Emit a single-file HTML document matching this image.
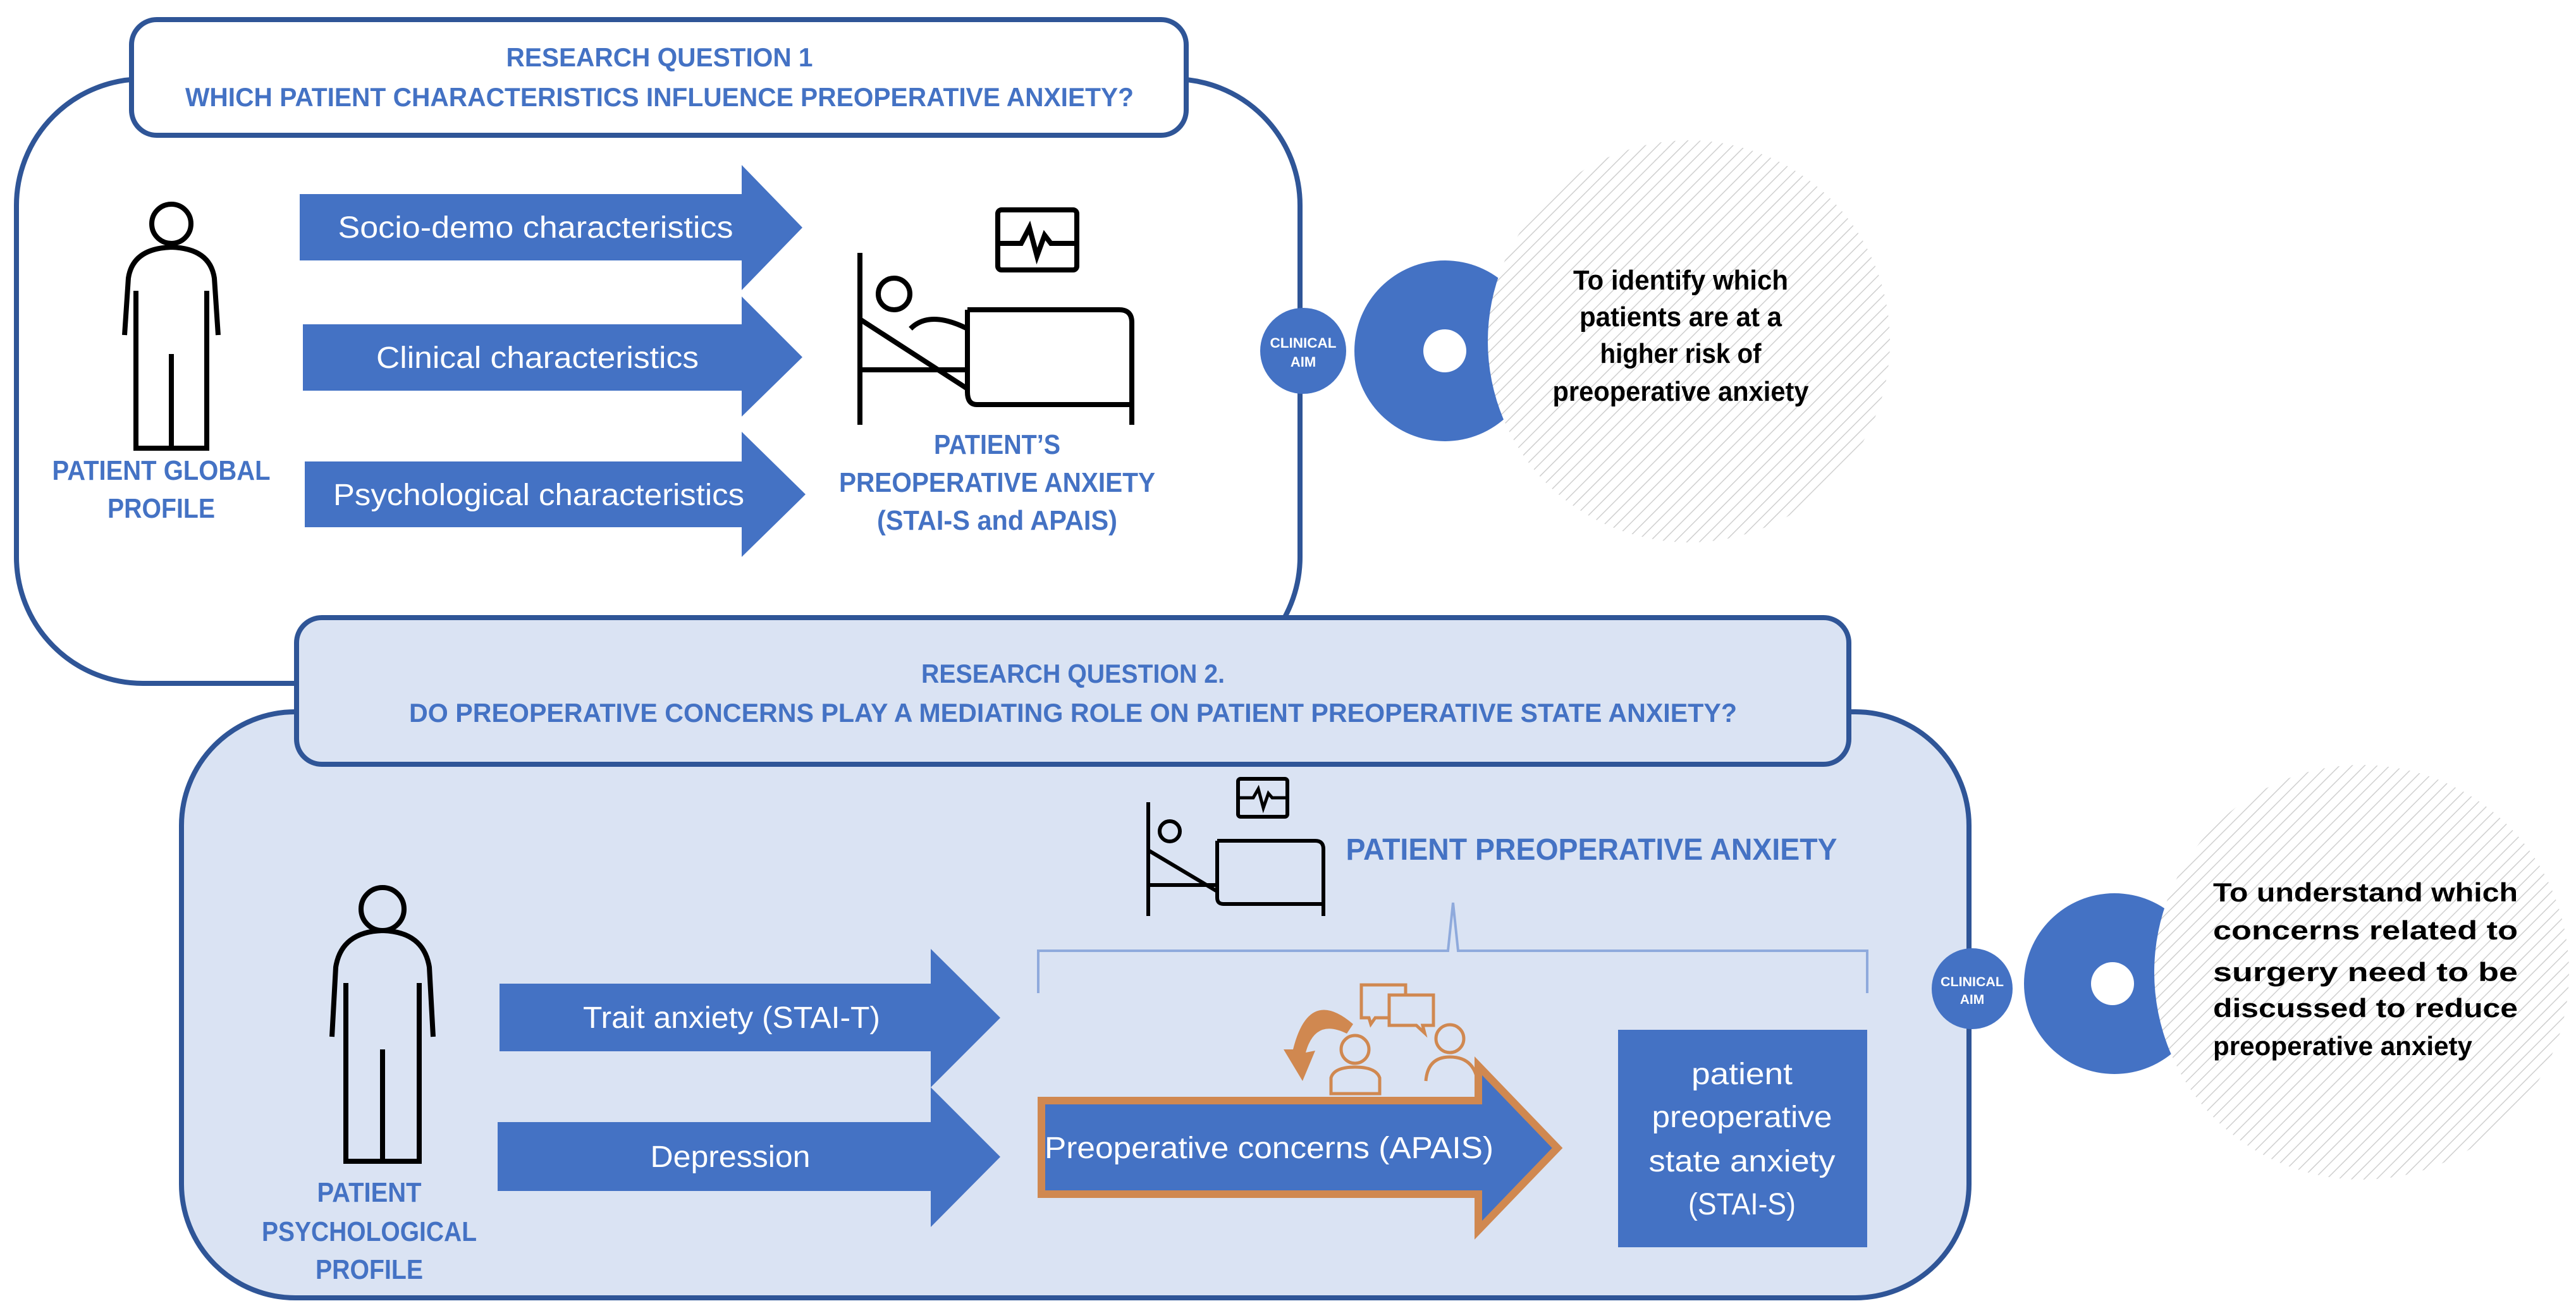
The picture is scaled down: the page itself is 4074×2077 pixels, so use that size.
<!DOCTYPE html>
<html><head><meta charset="utf-8"><style>html,body{margin:0;padding:0;background:#fff}svg{display:block}</style></head>
<body>
<svg width="4074" height="2077" viewBox="0 0 4074 2077" xmlns="http://www.w3.org/2000/svg" font-family="'Liberation Sans', sans-serif">
<defs>
<pattern id="h" width="14" height="14" patternUnits="userSpaceOnUse" patternTransform="rotate(45)">
<rect width="14" height="14" fill="#fff"/><line x1="0" y1="0" x2="0" y2="14" stroke="#cfcfcf" stroke-width="3"/></pattern>
</defs>
<g stroke="#2f5597" stroke-width="8">
<rect x="26" y="125" width="2030" height="956" rx="200" fill="#fff"/>
<rect x="208" y="31" width="1668" height="183" rx="40" fill="#fff"/>
<rect x="287" y="1126" width="2827" height="927" rx="180" fill="#dae3f3"/>
<rect x="469" y="977" width="2455" height="232" rx="40" fill="#dae3f3"/>
</g>
<g fill="#4472c4" font-weight="bold" text-anchor="middle">
<text x="1043" y="105" font-size="42" textLength="485" lengthAdjust="spacingAndGlyphs">RESEARCH QUESTION 1</text>
<text x="1043" y="168" font-size="42" textLength="1500" lengthAdjust="spacingAndGlyphs">WHICH PATIENT CHARACTERISTICS INFLUENCE PREOPERATIVE ANXIETY?</text>
<text x="1697" y="1080" font-size="42" textLength="480" lengthAdjust="spacingAndGlyphs">RESEARCH QUESTION 2.</text>
<text x="1697" y="1142" font-size="42" textLength="2100" lengthAdjust="spacingAndGlyphs">DO PREOPERATIVE CONCERNS PLAY A MEDIATING ROLE ON PATIENT PREOPERATIVE STATE ANXIETY?</text>
<text x="255" y="759" font-size="44" textLength="345" lengthAdjust="spacingAndGlyphs">PATIENT GLOBAL</text>
<text x="255" y="819" font-size="44" textLength="170" lengthAdjust="spacingAndGlyphs">PROFILE</text>
<text x="1577" y="718" font-size="44" textLength="200" lengthAdjust="spacingAndGlyphs">PATIENT’S</text>
<text x="1577" y="778" font-size="44" textLength="500" lengthAdjust="spacingAndGlyphs">PREOPERATIVE ANXIETY</text>
<text x="1577" y="838" font-size="44" textLength="380" lengthAdjust="spacingAndGlyphs">(STAI-S and APAIS)</text>
<text x="584" y="1901" font-size="44" textLength="165" lengthAdjust="spacingAndGlyphs">PATIENT</text>
<text x="584" y="1963" font-size="44" textLength="340" lengthAdjust="spacingAndGlyphs">PSYCHOLOGICAL</text>
<text x="584" y="2023" font-size="44" textLength="170" lengthAdjust="spacingAndGlyphs">PROFILE</text>
<text x="2517" y="1360" font-size="48" text-anchor="middle" textLength="777" lengthAdjust="spacingAndGlyphs">PATIENT PREOPERATIVE ANXIETY</text>
</g>
<g fill="#4472c4">
<polygon points="474,307 1173,307 1173,261 1269,360 1173,459 1173,412 474,412"/>
<polygon points="479,513 1173,513 1173,469 1269,565 1173,659 1173,618 479,618"/>
<polygon points="482,730 1173,730 1173,683 1274,782 1173,881 1173,834 482,834"/>
<polygon points="790,1556 1472,1556 1472,1501 1582,1610 1472,1720 1472,1663 790,1663"/>
<polygon points="787,1775 1472,1775 1472,1720 1582,1830 1472,1941 1472,1884 787,1884"/>
<polygon points="1647,1741 2338,1741 2338,1686 2463,1816 2338,1946 2338,1889 1647,1889" stroke="#d08850" stroke-width="12" stroke-linejoin="miter"/>
<rect x="2559" y="1629" width="394" height="344"/>
</g>
<g fill="#fff" text-anchor="middle" font-size="48">
<text x="847" y="376" textLength="625" lengthAdjust="spacingAndGlyphs">Socio-demo characteristics</text>
<text x="850" y="582" textLength="510" lengthAdjust="spacingAndGlyphs">Clinical characteristics</text>
<text x="852" y="799" textLength="650" lengthAdjust="spacingAndGlyphs">Psychological characteristics</text>
<text x="1157" y="1626" textLength="470" lengthAdjust="spacingAndGlyphs">Trait anxiety (STAI-T)</text>
<text x="1155" y="1846" textLength="253" lengthAdjust="spacingAndGlyphs">Depression</text>
<text x="2007" y="1832" textLength="710" lengthAdjust="spacingAndGlyphs">Preoperative concerns (APAIS)</text>
<text x="2755" y="1715" textLength="160" lengthAdjust="spacingAndGlyphs">patient</text>
<text x="2755" y="1783" textLength="285" lengthAdjust="spacingAndGlyphs">preoperative</text>
<text x="2755" y="1853" textLength="295" lengthAdjust="spacingAndGlyphs">state anxiety</text>
<text x="2755" y="1921" textLength="170" lengthAdjust="spacingAndGlyphs">(STAI-S)</text>
</g>
<path d="M1642,1571 L1642,1504 L2290,1504 L2298,1428 L2306,1504 L2953,1504 L2953,1571" fill="none" stroke="#8faadc" stroke-width="4"/>
<g fill="none" stroke="#000" stroke-width="8">
<circle cx="271" cy="354" r="31"/>
<path d="M197,530 L203,440 Q210,393 271,391 Q332,393 339,440 L345,530"/>
<path d="M215,460 L215,709 L327,709 L327,460 M271,560 L271,709"/>
<circle cx="605" cy="1438" r="34"/>
<path d="M525,1640 L531,1530 Q540,1474 605,1472 Q670,1474 679,1530 L685,1640"/>
<path d="M547,1555 L547,1837 L663,1837 L663,1555 M605,1660 L605,1837"/>
<rect x="1578" y="332" width="125" height="95" rx="6"/>
<path d="M1580,385 L1615,385 L1628,360 L1640,405 L1652,372 L1662,385 L1700,385"/>
<path d="M1360,400 L1360,672 M1360,585 L1530,585 M1360,505 L1530,615"/>
<circle cx="1414" cy="465" r="25"/>
<path d="M1440,520 Q1470,490 1530,520"/>
<path d="M1530,490 L1770,490 Q1790,490 1790,510 L1790,672 M1790,640 L1545,640 Q1530,640 1530,620 L1530,490"/>
<rect x="1958" y="1232" width="78" height="60" rx="4" stroke-width="6"/>
<path d="M1960,1262 L1982,1262 L1990,1248 L1998,1278 L2006,1255 L2012,1262 L2034,1262" stroke-width="5"/>
<path d="M1816,1269 L1816,1449 M1816,1400 L1925,1400 M1816,1345 L1925,1410" stroke-width="6"/>
<circle cx="1850" cy="1315" r="16" stroke-width="6"/>
<path d="M1925,1330 L2080,1330 Q2093,1330 2093,1343 L2093,1449 M2093,1430 L1935,1430 Q1925,1430 1925,1420 L1925,1330" stroke-width="6"/>
</g>
<g fill="none" stroke="#d08850" stroke-width="5">
<path d="M2153,1558 L2223,1558 L2223,1610 L2175,1610 L2168,1620 L2165,1610 L2153,1610 Z"/>
<path d="M2197,1574 L2267,1574 L2267,1622 L2250,1622 L2253,1634 L2240,1622 L2197,1622 Z" fill="#dae3f3"/>
<circle cx="2143" cy="1660" r="22"/>
<path d="M2105,1730 L2105,1705 Q2110,1688 2143,1688 Q2176,1688 2182,1705 L2182,1730 Z"/>
<circle cx="2293" cy="1643" r="22"/>
<path d="M2255,1710 Q2258,1672 2293,1672 Q2335,1672 2338,1720"/>
</g>
<path d="M2140,1620 Q2070,1560 2045,1660 L2030,1660 L2060,1710 L2080,1662 L2065,1665 Q2080,1610 2130,1635 Z" fill="#d08850"/>
<circle cx="2061" cy="555" r="68" fill="#4472c4"/>
<text x="2061" y="550" fill="#fff" font-size="22" font-weight="bold" text-anchor="middle" textLength="105" lengthAdjust="spacingAndGlyphs">CLINICAL</text>
<text x="2061" y="580" fill="#fff" font-size="22" font-weight="bold" text-anchor="middle">AIM</text>
<circle cx="2285" cy="555" r="143" fill="#4472c4"/>
<circle cx="2285" cy="555" r="34" fill="#fff"/>
<circle cx="2671" cy="540" r="318" fill="url(#h)"/>
<g font-size="44" font-weight="bold" text-anchor="middle" fill="#000">
<text x="2658" y="458" textLength="340" lengthAdjust="spacingAndGlyphs">To identify which</text>
<text x="2658" y="516" textLength="320" lengthAdjust="spacingAndGlyphs">patients are at a</text>
<text x="2658" y="574" textLength="255" lengthAdjust="spacingAndGlyphs">higher risk of</text>
<text x="2658" y="634" textLength="405" lengthAdjust="spacingAndGlyphs">preoperative anxiety</text>
</g>
<circle cx="3119" cy="1564" r="64" fill="#4472c4"/>
<text x="3119" y="1560" fill="#fff" font-size="21" font-weight="bold" text-anchor="middle" textLength="100" lengthAdjust="spacingAndGlyphs">CLINICAL</text>
<text x="3119" y="1588" fill="#fff" font-size="21" font-weight="bold" text-anchor="middle">AIM</text>
<circle cx="3344" cy="1556" r="143" fill="#4472c4"/>
<circle cx="3341" cy="1556" r="34" fill="#fff"/>
<circle cx="3735" cy="1538" r="328" fill="url(#h)"/>
<g font-size="42" font-weight="bold" fill="#000">
<text x="3500" y="1426" textLength="482" lengthAdjust="spacingAndGlyphs">To understand which</text>
<text x="3500" y="1486" textLength="482" lengthAdjust="spacingAndGlyphs">concerns related to</text>
<text x="3500" y="1552" textLength="482" lengthAdjust="spacingAndGlyphs">surgery need to be</text>
<text x="3500" y="1609" textLength="482" lengthAdjust="spacingAndGlyphs">discussed to reduce</text>
<text x="3500" y="1669" textLength="410" lengthAdjust="spacingAndGlyphs">preoperative anxiety</text>
</g>
</svg>
</body></html>
